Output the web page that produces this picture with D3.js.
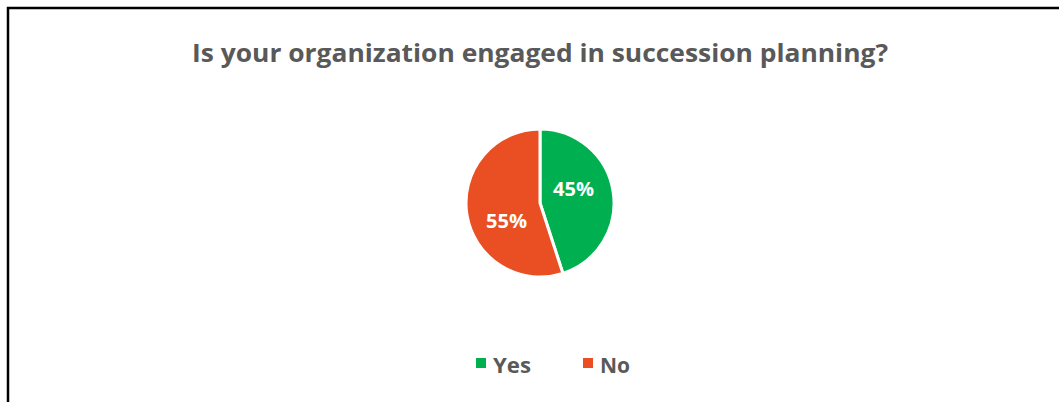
<!DOCTYPE html>
<html><head><meta charset="utf-8">
<script src="https://cdn.jsdelivr.net/npm/d3@7"></script>
<style>body{margin:0;background:#fff}svg{display:block}</style>
</head><body>
<svg id="c" width="1059" height="402"></svg>
<script>
const categories = ["Yes", "No"];
const values = [45, 55];
const colors = ["#00B050", "#E94F22"];
const title = "Is your organization engaged in succession planning?";

const svg = d3.select("#c");
const W = 1059, H = 402;
const font = "'Open Sans', sans-serif";

svg.append("rect").attr("x", 8).attr("y", 8).attr("width", W + 20).attr("height", H + 20)
  .attr("fill", "#fff").attr("stroke", "#000").attr("stroke-width", 2.5);

svg.append("text").attr("x", 540).attr("y", 62).attr("text-anchor", "middle")
  .attr("font-family", font).attr("font-weight", 700).attr("font-size", 25)
  .attr("fill", "#595959").text(title)
  .attr("textLength", 696).attr("lengthAdjust", "spacingAndGlyphs");

const cx = 540, cy = 203, r = 74;
const pie = d3.pie().sort(null).value(d => d.v);
const data = pie(categories.map((c, i) => ({c, v: values[i], col: colors[i]})));
const arc = d3.arc().innerRadius(0).outerRadius(r);
const g = svg.append("g").attr("transform", `translate(${cx},${cy})`);
g.selectAll("path").data(data).join("path").attr("d", arc)
  .attr("fill", d => d.data.col).attr("stroke", "#fff").attr("stroke-width", 3).attr("stroke-linejoin", "miter");

// Excel-style label placement: centroid rotated slightly counter-clockwise
const labelPos = d => {
  const a = (d.startAngle + d.endAngle) / 2 - 0.28;
  const dist = r * 0.5;
  return [Math.sin(a) * dist, -Math.cos(a) * dist];
};
g.selectAll("text").data(data).join("text")
  .attr("transform", d => `translate(${labelPos(d)})`)
  .attr("text-anchor", "middle").attr("dy", "0.46em")
  .attr("font-family", font).attr("font-weight", 700).attr("font-size", 19.5)
  .attr("fill", "#fff").text(d => d.data.v + "%")
  .attr("textLength", 41).attr("lengthAdjust", "spacingAndGlyphs");

const legend = svg.append("g");
const lx = [476, 583];
const lw = [38, 30];
categories.forEach((c, i) => {
  legend.append("rect").attr("x", lx[i]).attr("y", 358).attr("width", 10).attr("height", 10).attr("fill", colors[i]);
  legend.append("text").attr("x", lx[i] + 17).attr("y", 373)
    .attr("font-family", font).attr("font-weight", 700).attr("font-size", 21.5)
    .attr("fill", "#595959").text(c)
    .attr("textLength", lw[i]).attr("lengthAdjust", "spacingAndGlyphs");
});
</script>
</body></html>
